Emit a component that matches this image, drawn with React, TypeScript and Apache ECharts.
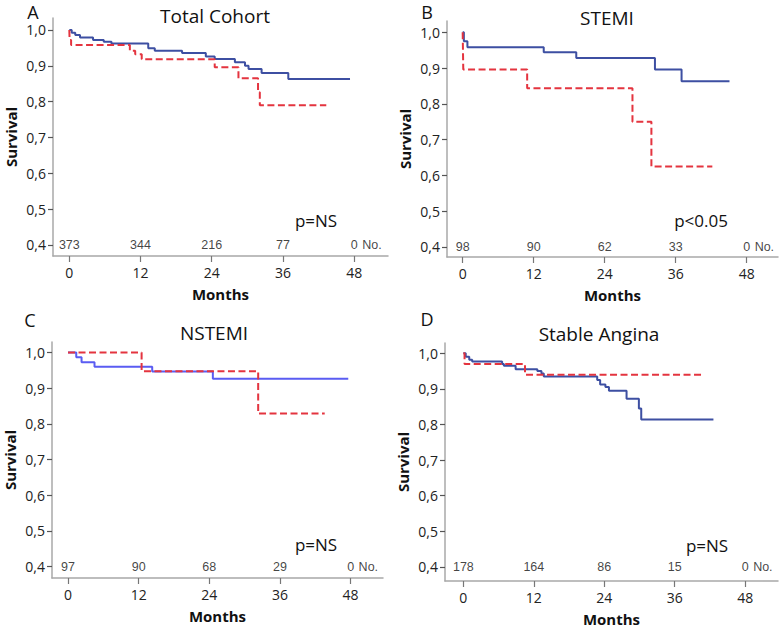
import React, { useEffect, useRef } from "react";
import * as echarts from "echarts";

// ---------- data ----------
const monthTicks = [0, 12, 24, 36, 48];
const survivalTicks = [0.4, 0.5, 0.6, 0.7, 0.8, 0.9, 1.0];

const panelLetters = ["A", "B", "C", "D"];
const panelTitles = ["Total Cohort", "STEMI", "NSTEMI", "Stable Angina"];
const pValues = ["p=NS", "p<0.05", "p=NS", "p=NS"];

const totalBlue: number[][] = [
  [0, 1], [0.4, 0.992], [1.0, 0.986], [1.8, 0.979], [4.0, 0.972], [5.8, 0.967],
  [7.1, 0.962], [13.3, 0.949], [14.4, 0.942], [19.0, 0.936], [23.0, 0.926],
  [24.5, 0.919], [27.9, 0.91], [29.6, 0.9], [30.2, 0.891], [32.4, 0.88],
  [36.9, 0.863], [47.3, 0.863],
];
const totalRed: number[][] = [
  [0, 1], [0.05, 0.972], [0.3, 0.958], [10.2, 0.942], [11.1, 0.932], [12.2, 0.918],
  [24.5, 0.896], [28.5, 0.865], [31.8, 0.826], [32.1, 0.79], [43.3, 0.79],
];
const stemiBlue: number[][] = [
  [0, 1], [0.2, 0.975], [0.8, 0.958], [13.7, 0.944], [19.2, 0.928],
  [32.5, 0.896], [37.0, 0.863], [45.1, 0.863],
];
const stemiRed: number[][] = [
  [0, 1], [0.1, 0.896], [10.9, 0.844], [28.7, 0.75], [31.9, 0.625], [42.2, 0.625],
];
const nstemiBlue: number[][] = [
  [0, 1], [1.4, 0.987], [2.3, 0.973], [4.5, 0.96], [14.3, 0.947], [24.6, 0.927], [47.6, 0.927],
];
const nstemiRed: number[][] = [
  [0, 1], [12.5, 0.948], [32.3, 0.829], [43.6, 0.829],
];
const stableBlue: number[][] = [
  [0, 1], [0.4, 0.99], [1.0, 0.982], [1.5, 0.977], [6.6, 0.97], [6.9, 0.965],
  [8.9, 0.955], [12.6, 0.95], [13.3, 0.943], [13.7, 0.935], [22.8, 0.925],
  [23.3, 0.912], [24.2, 0.905], [24.8, 0.895], [27.8, 0.872], [29.9, 0.845],
  [30.3, 0.814], [42.6, 0.814],
];
const stableRed: number[][] = [
  [0, 1], [0.2, 0.97], [10.5, 0.94], [40.9, 0.94],
];

const totalAtRisk = [373, 344, 216, 77, 0];
const stemiAtRisk = [98, 90, 62, 33, 0];
const nstemiAtRisk = [97, 90, 68, 29, 0];
const stableAtRisk = [178, 164, 86, 15, 0];

const blueCurves = [totalBlue, stemiBlue, nstemiBlue, stableBlue];
const redCurves = [totalRed, stemiRed, nstemiRed, stableRed];
const atRisk = [totalAtRisk, stemiAtRisk, nstemiAtRisk, stableAtRisk];
const atRiskLabel = "No.";

// ---------- layout (positions / styles) ----------
const grids = [
  { left: 53, top: 18, width: 335, height: 238, xMin: -2.75, xMax: 53.7, yMin: 0.369, yMax: 1.0335 },
  { left: 447, top: 21, width: 331, height: 236, xMin: -2.65, xMax: 53.3, yMin: 0.372, yMax: 1.0317 },
  { left: 52, top: 342, width: 331, height: 236, xMin: -2.72, xMax: 53.5, yMin: 0.368, yMax: 1.0297 },
  { left: 445, top: 343, width: 333, height: 238, xMin: -3.13, xMax: 53.6, yMin: 0.36, yMax: 1.029 },
];
const letterPos = [[33, 11.5], [427, 11.5], [30, 320], [427, 319]];
const titlePos = [[215, 16], [607, 18], [214, 333], [599, 334]];
const pPos = [[316, 220], [701, 220], [316, 544], [707, 545]];
const blueColors = ["#3d4fa2", "#3d4fa2", "#5a5cf2", "#3d4fa2"];
const redColor = "#e4343f";
const axisGray = "#a8a8a8";
const FONT = "'Open Sans', 'Noto Sans', sans-serif";

function buildOption() {
  const series: any[] = [];
  const xAxis: any[] = [];
  const yAxis: any[] = [];
  const graphic: any[] = [];

  grids.forEach((g, i) => {
    xAxis.push({
      gridIndex: i,
      type: "value",
      min: g.xMin,
      max: g.xMax,
      name: "Months",
      nameLocation: "middle",
      nameGap: 30,
      nameTextStyle: { fontFamily: FONT, fontWeight: "bold", fontSize: 15, color: "#111" },
      splitLine: { show: false },
      axisLine: { show: true, onZero: false, lineStyle: { color: axisGray, width: 1.5 } },
      axisTick: { show: true, length: 6, customValues: monthTicks, lineStyle: { color: "#777", width: 1.2 } },
      axisLabel: {
        customValues: monthTicks,
        margin: 9,
        fontFamily: FONT,
        fontSize: 14,
        color: "#222",
      },
    });
    yAxis.push({
      gridIndex: i,
      type: "value",
      min: g.yMin,
      max: g.yMax,
      name: "Survival",
      nameLocation: "middle",
      nameGap: 35,
      nameTextStyle: { fontFamily: FONT, fontWeight: "bold", fontSize: 15, color: "#111" },
      splitLine: { show: false },
      axisLine: { show: true, onZero: false, lineStyle: { color: axisGray, width: 1.5 } },
      axisTick: { show: true, length: 5, customValues: survivalTicks, lineStyle: { color: "#555", width: 1.2 } },
      axisLabel: {
        customValues: survivalTicks,
        margin: 7,
        fontFamily: FONT,
        fontSize: 14,
        color: "#222",
        formatter: (v: number) => v.toFixed(1).replace(".", ","),
      },
    });

    series.push({
      type: "line",
      xAxisIndex: i,
      yAxisIndex: i,
      step: "end",
      showSymbol: false,
      data: blueCurves[i],
      lineStyle: { color: blueColors[i], width: 2 },
      z: 3,
    });
    series.push({
      type: "line",
      xAxisIndex: i,
      yAxisIndex: i,
      step: "end",
      showSymbol: false,
      data: redCurves[i],
      lineStyle: { color: redColor, width: 2, type: [7, 3.5] },
      z: 4,
    });

    const riskData: any[] = atRisk[i].map((n, k) => ({
      value: [monthTicks[k], survivalTicks[0]],
      label: { formatter: String(n) },
    }));
    riskData.push({
      value: [monthTicks[monthTicks.length - 1], survivalTicks[0]],
      label: { formatter: atRiskLabel, align: "left", offset: [8, 0] },
    });
    series.push({
      type: "scatter",
      xAxisIndex: i,
      yAxisIndex: i,
      symbolSize: 0,
      itemStyle: { color: "transparent" },
      silent: true,
      data: riskData,
      label: {
        show: true,
        position: "inside",
        fontFamily: "'Liberation Sans', Arial, sans-serif",
        fontSize: 12.5,
        color: "#111",
      },
      z: 5,
    });

    const mk = (text: string, pos: number[], size: number) => ({
      type: "text",
      x: pos[0],
      y: pos[1],
      style: {
        text,
        font: `${size}px ${FONT}`,
        fill: "#111",
        textAlign: "center",
        textVerticalAlign: "middle",
        align: "center",
        verticalAlign: "middle",
      },
    });
    graphic.push(mk(panelLetters[i], letterPos[i], 18));
    graphic.push(mk(panelTitles[i], titlePos[i], 19));
    graphic.push(mk(pValues[i], pPos[i], 17));
  });

  return {
    animation: false,
    backgroundColor: "#ffffff",
    grid: grids.map((g) => ({ left: g.left, top: g.top, width: g.width, height: g.height, containLabel: false })),
    xAxis,
    yAxis,
    series,
    graphic,
  };
}

export default function App() {
  const ref = useRef<HTMLDivElement>(null);
  useEffect(() => {
    document.body.style.margin = "0";
    if (!ref.current) return;
    const chart = echarts.init(ref.current, undefined, { renderer: "svg" });
    chart.setOption(buildOption() as any);
    return () => chart.dispose();
  }, []);
  return (
    <div
      ref={ref}
      style={{ position: "absolute", left: 0, top: 0, width: 780, height: 627, background: "#fff" }}
    />
  );
}
